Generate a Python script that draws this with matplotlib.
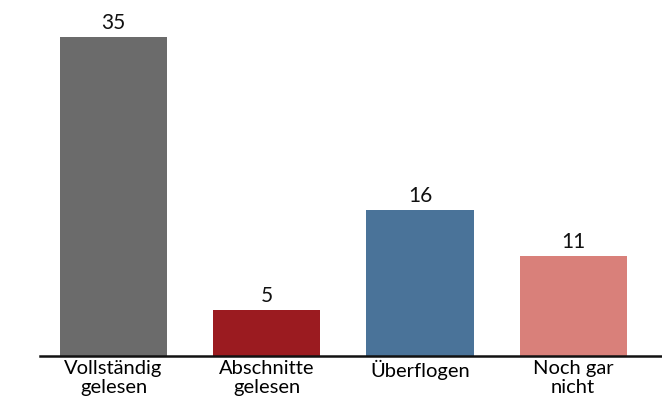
import matplotlib
matplotlib.use("Agg")
import matplotlib.pyplot as plt

# data
categories = ["Vollständig\ngelesen", "Abschnitte\ngelesen", "Überflogen", "Noch gar\nnicht"]
values = [35, 5, 16, 11]
colors = ["#6b6b6b", "#9b1b20", "#4a7399", "#d9807a"]

plt.rcParams['font.family'] = ['Lato', 'DejaVu Sans']

fig = plt.figure(figsize=(6.62, 4.0), dpi=100)
ax = fig.add_axes([40/662., 44/400., 622/662., 356/400.])

x = range(len(values))
ax.bar(x, values, width=0.7, color=colors)
for xi, v in zip(x, values):
	ax.text(xi, v + 0.45, str(v), ha="center", va="bottom", fontsize=15, color="#111111")

ax.set_xlim(-0.48, 3.58)
ax.set_ylim(0, 39.07)
ax.set_xticks(list(x))
ax.set_xticklabels(categories, fontsize=14.5, linespacing=1.15)
ax.tick_params(axis="x", length=0, pad=3)
ax.set_yticks([])
for s in ["top", "right", "left"]:
	ax.spines[s].set_visible(False)
ax.spines["bottom"].set_linewidth(1.8)
ax.spines["bottom"].set_color("#111111")

fig.savefig("out.png", dpi=100)
